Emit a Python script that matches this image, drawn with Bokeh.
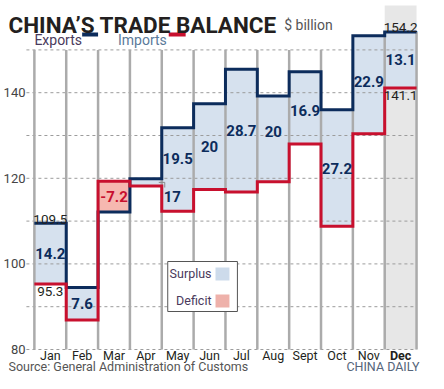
from bokeh.plotting import figure
from bokeh.models import Label, FixedTicker, Range1d
from bokeh.embed import file_html
from bokeh.resources import INLINE

# ---------------- data ----------------
months = ["Jan", "Feb", "Mar", "Apr", "May", "Jun", "Jul", "Aug", "Sept", "Oct", "Nov", "Dec"]
exports = [109.5, 94.5, 112.1, 119.9, 131.8, 137.4, 145.5, 139.2, 144.9, 136.0, 153.3, 154.2]
imports = [95.3, 86.9, 119.3, 118.2, 112.3, 117.4, 116.8, 119.2, 128.0, 108.8, 130.4, 141.1]
balance_text = ["14.2", "7.6", "-7.2", "17", "19.5", "20", "28.7", "20", "16.9", "27.2", "22.9", "13.1"]
y_ticks = [80, 100, 120, 140]
grid_levels = [80, 90, 100, 110, 120, 130, 140, 150]

# ---------------- style ----------------
NAVY = "#0c2c5c"
RED = "#c8102e"
SURPLUS = "#d6e1ee"
DEFICIT = "#f6b8b0"
VGRID = "#ababab"
SHADE = "#e7e7e7"
TXT = "#231f20"
FONT = "Roboto"

# layout helpers: page pixel -> data coordinate (used only for decorations/text placement)
def X(px):
    return (px - 40) / 32.0

def Y(py):
    return 80 + (350 - py) / 4.28

n = len(months)
edges = list(range(n + 1))

p = figure(width=428, height=373, output_backend="svg", toolbar_location=None,
           x_range=Range1d(X(14), X(436)), y_range=Range1d(Y(373), Y(1)),
           min_border_left=6, min_border_right=0, min_border_top=0, min_border_bottom=1)
p.outline_line_color = None
p.xgrid.visible = False
p.ygrid.visible = False

# Dec shade
p.quad(left=[n - 1], right=[n], bottom=[80], top=[Y(6)], fill_color=SHADE, line_color=None)

# surplus / deficit fills
tops = [max(e, i) for e, i in zip(exports, imports)]
bots = [min(e, i) for e, i in zip(exports, imports)]
cols = [SURPLUS if e >= i else DEFICIT for e, i in zip(exports, imports)]
p.quad(left=edges[:-1], right=edges[1:], bottom=bots, top=tops, fill_color=cols, line_color=None)

# dashed horizontal grid
p.segment(x0=[X(32)] * len(grid_levels), y0=grid_levels, x1=[n] * len(grid_levels), y1=grid_levels,
          line_color="#9c9c9c", line_width=1, line_dash="3 3")

# vertical month separators
vtops = [150] * (n - 1) + [exports[-1]] * 2
p.segment(x0=edges, y0=[80] * (n + 1), x1=edges, y1=vtops, line_color=VGRID, line_width=2.5)

# step lines
p.step(x=edges, y=exports + [exports[-1]], mode="after", line_color=NAVY, line_width=3, line_join="miter")
p.step(x=edges, y=imports + [imports[-1]], mode="after", line_color=RED, line_width=3, line_join="miter")

# axes (labels pulled into the frame area with negative standoffs)
p.xaxis.ticker = FixedTicker(ticks=[i + 0.5 for i in range(n)])
p.xaxis.major_label_overrides = {i + 0.5: (m if m != "Dec" else "") for i, m in enumerate(months)}
p.yaxis.ticker = FixedTicker(ticks=y_ticks)
for ax in (p.xaxis[0], p.yaxis[0]):
    ax.axis_line_color = None
    ax.major_tick_line_color = None
    ax.minor_tick_line_color = None
    ax.major_tick_out = 0
    ax.major_tick_in = 0
    ax.major_label_text_font = FONT
    ax.major_label_text_font_size = "13px"
p.xaxis.major_label_text_font_size = "12.5px"
p.xaxis.major_label_standoff = -25
p.yaxis.major_label_standoff = -17
p.xaxis.major_label_text_color = TXT
p.yaxis.major_label_text_color = "#444444"

p.add_layout(Label(x=n - 0.5, y=80, y_offset=2, text="Dec", text_align="center", text_baseline="top",
                   text_font=FONT, text_font_size="12.5px", text_font_style="bold", text_color=TXT))

# balance labels
dy = {"May": 11, "Aug": 7, "Sept": -3, "Nov": 3}
for i, m in enumerate(months):
    if m == "Apr":
        continue
    mid = (exports[i] + imports[i]) / 2
    p.add_layout(Label(x=i + 0.5, y=mid, y_offset=dy.get(m, 0), text=balance_text[i],
                       text_align="center", text_baseline="middle", text_font=FONT,
                       text_font_size="15px", text_font_style="bold",
                       text_color=RED if exports[i] < imports[i] else NAVY))
# Apr value placed in May column with leader
ai = months.index("Apr")
amid = (exports[ai] + imports[ai]) / 2
p.add_layout(Label(x=ai + 1 + 0.06, y=imports[ai + 1], y_offset=15, text=balance_text[ai],
                   text_align="left", text_baseline="middle", text_font=FONT,
                   text_font_size="15px", text_font_style="bold", text_color=NAVY))
p.line(x=[ai + 0.906, ai + 1.094, ai + 1.094], y=[amid, amid, amid - 1.2], line_color="#888888", line_width=1)

# end values
def end_label(x, y, txt, above):
    p.add_layout(Label(x=x, y=y, y_offset=4 if above else -3, text=txt, text_align="center",
                       text_baseline="alphabetic" if above else "top", text_font=FONT,
                       text_font_size="13.5px", text_color=TXT))

end_label(0.5, exports[0], f"{exports[0]}", True)
end_label(0.5, imports[0], f"{imports[0]}", False)
end_label(n - 0.5, exports[-1], f"{exports[-1]}", True)
end_label(n - 0.5, imports[-1], f"{imports[-1]}", False)

# title and header legend
p.add_layout(Label(x=X(14), y=Y(25), text="CHINA\u2019S TRADE BALANCE",
                   text_align="left", text_baseline="alphabetic", text_font=FONT, text_font_size="22.5px",
                   text_font_style="bold", text_color=TXT))
p.add_layout(Label(x=X(291), y=Y(25), text="$ billion", text_align="left", text_baseline="alphabetic",
                   text_font=FONT, text_font_size="14px", text_color="#555555"))
p.add_layout(Label(x=X(40), y=Y(40), text="Exports", text_align="left", text_baseline="alphabetic",
                   text_font=FONT, text_font_size="14px", text_color="#4a3a5c"))
p.add_layout(Label(x=X(124), y=Y(40), text="Imports", text_align="left", text_baseline="alphabetic",
                   text_font=FONT, text_font_size="14px", text_color="#5a7a9a"))
p.segment(x0=[X(88), X(175)], y0=[Y(35)] * 2, x1=[X(104), X(192)], y1=[Y(35)] * 2,
          line_color=[NAVY, RED], line_width=4)

# surplus/deficit key box
p.quad(left=[X(174)], right=[X(244)], bottom=[Y(312)], top=[Y(262)], fill_color="white",
       line_color="#555555", line_width=1)
p.quad(left=[X(222)] * 2, right=[X(236)] * 2, bottom=[Y(281), Y(308)], top=[Y(268), Y(295)],
       fill_color=["#cddbeb", "#eeb1aa"], line_color=None)
p.add_layout(Label(x=X(218), y=Y(274), text="Surplus", text_align="right", text_baseline="middle",
                   text_font=FONT, text_font_size="12.5px", text_color="#4a3a5c"))
p.add_layout(Label(x=X(218), y=Y(301), text="Deficit", text_align="right", text_baseline="middle",
                   text_font=FONT, text_font_size="12.5px", text_color="#4a3a5c"))

# footer
p.add_layout(Label(x=X(14), y=Y(366.5), text="Source: General Administration of Customs", text_align="left",
                   text_baseline="alphabetic", text_font=FONT, text_font_size="12.5px",
                   text_color="#555555"))
p.add_layout(Label(x=X(427), y=Y(366.5), text="CHINA DAILY", text_align="right",
                   text_baseline="alphabetic", text_font=FONT, text_font_size="12.5px",
                   text_color="#55657a"))

open("out.html", "w").write(file_html(p, INLINE))
